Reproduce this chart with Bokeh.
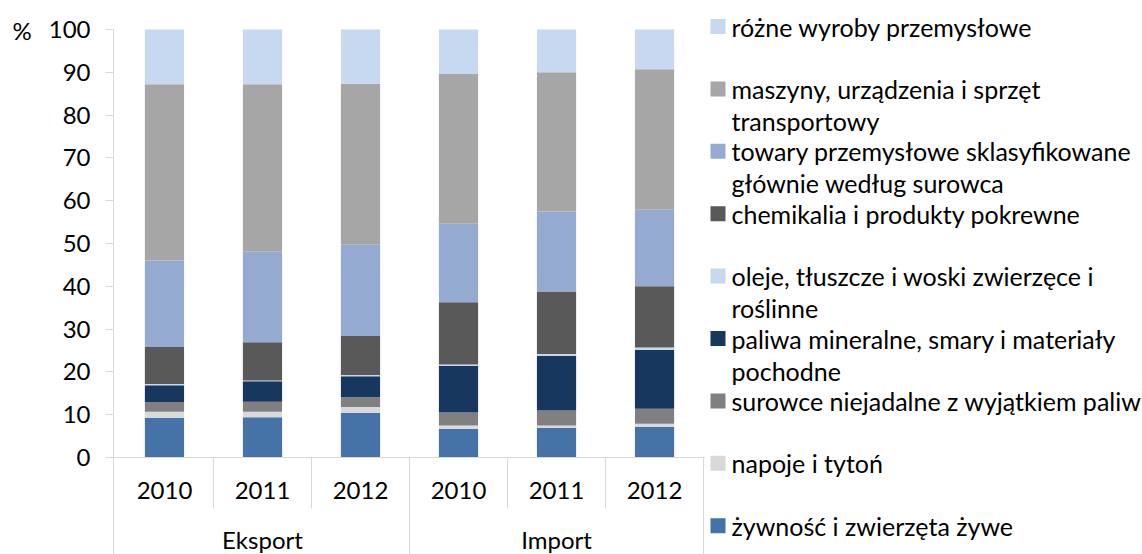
from bokeh.plotting import figure
from bokeh.models import FactorRange, Range1d, FixedTicker, Span, ColumnDataSource
from bokeh.layouts import row
from bokeh.embed import file_html
from bokeh.resources import INLINE
from bokeh.core.properties import value

# ---------------- data ----------------
groups = ["Eksport", "Import"]
years = ["2010", "2011", "2012"]
y_ticks = [0, 10, 20, 30, 40, 50, 60, 70, 80, 90, 100]
unit_label = "%"

# order of values: Eksport 2010, 2011, 2012, Import 2010, 2011, 2012
zywnosc = [9.3, 9.4, 10.4, 6.7, 6.9, 7.2]
napoje = [1.4, 1.3, 1.4, 0.8, 0.6, 0.7]
surowce = [2.2, 2.3, 2.3, 3.0, 3.5, 3.5]
paliwa = [4.0, 4.8, 4.9, 10.9, 12.8, 13.8]
oleje = [0.3, 0.2, 0.3, 0.3, 0.4, 0.5]
chemikalia = [8.6, 8.9, 9.1, 14.6, 14.6, 14.3]
towary = [20.2, 21.3, 21.3, 18.3, 18.7, 17.9]
maszyny = [41.2, 39.0, 37.6, 35.0, 32.5, 32.8]
rozne = [12.8, 12.8, 12.7, 10.4, 10.0, 9.3]

series_keys = ["zywnosc", "napoje", "surowce", "paliwa", "oleje",
               "chemikalia", "towary", "maszyny", "rozne"]
series_values = [zywnosc, napoje, surowce, paliwa, oleje,
                 chemikalia, towary, maszyny, rozne]
legend_labels = [
    "żywność i zwierzęta żywe",
    "napoje i tytoń",
    "surowce niejadalne z wyjątkiem paliw",
    "paliwa mineralne, smary i materiały\npochodne",
    "oleje, tłuszcze i woski zwierzęce i\nroślinne",
    "chemikalia i produkty pokrewne",
    "towary przemysłowe sklasyfikowane\ngłównie według surowca",
    "maszyny, urządzenia i sprzęt\ntransportowy",
    "różne wyroby przemysłowe",
]
colors = ["#4673A7", "#D9D9D9", "#808080", "#17375E", "#C6D9F1",
          "#595959", "#95AAD1", "#A6A6A6", "#C6D9F1"]

FONT = "Lato"
FS = "24px"
LFS = "25px"
GRID = "#D9D9D9"
H = 554

# ---------------- unit label panel ----------------
UW = 45
unit = figure(width=UW, height=H, x_range=Range1d(0, UW), y_range=Range1d(H, 0),
              output_backend="svg", toolbar_location=None, title_location=None,
              x_axis_location=None, y_axis_location=None, min_border=0)
unit.outline_line_color = None
unit.grid.visible = False
unit.text(x=[12], y=[30], text=[unit_label], text_font=value(FONT),
          text_font_size=FS, text_align="left", text_baseline="middle",
          text_color="#000000")

# ---------------- main chart ----------------
factors = [(g, y) for g in groups for y in years]
data = {"x": factors}
for k, v in zip(series_keys, series_values):
    data[k] = v
src = ColumnDataSource(data)

x_range = FactorRange(*factors, group_padding=0, factor_padding=0,
                      subgroup_padding=0, range_padding=0.02,
                      range_padding_units="absolute")
px_per_unit = 4.28
y_top = 100 + 29 / px_per_unit
y_bottom = -(H - 457) / px_per_unit
PW = 660
p = figure(width=PW, height=H, x_range=x_range,
           y_range=Range1d(y_bottom, y_top),
           output_backend="svg", toolbar_location=None, title_location=None,
           x_axis_location=None,
           min_border_left=65, min_border_right=0,
           min_border_top=0, min_border_bottom=0)
p.outline_line_color = None
p.grid.visible = False

p.vbar_stack(series_keys, x="x", width=0.4, color=colors, source=src,
             line_color=None)

yax = p.yaxis[0]
yax.ticker = FixedTicker(ticks=y_ticks)
yax.bounds = (y_bottom, 100)
yax.axis_line_color = GRID
yax.major_tick_line_color = GRID
yax.major_tick_out = 8
yax.major_tick_in = 0
yax.minor_tick_line_color = None
yax.major_label_standoff = 15
yax.major_label_text_font = FONT
yax.major_label_text_font_size = FS
yax.major_label_text_color = "#000000"

# baseline
p.add_layout(Span(location=0, dimension="width", line_color=GRID, line_width=1))

# category separators
n_years = len(years)
n_cat = len(factors)
short_depth = -51 / px_per_unit
sx, sy0, sy1 = [], [], []
for b in range(1, n_cat + 1):
    sx.append(b)
    sy0.append(0)
    sy1.append(y_bottom if b % n_years == 0 else short_depth)
p.segment(x0=sx, y0=sy0, x1=sx, y1=sy1, line_color=GRID, line_width=1)

# category labels
p.text(x=factors, y=[0] * n_cat, text=[f[1] for f in factors],
       text_font=value(FONT), text_font_size=FS, text_align="center",
       text_baseline="middle", y_offset=33, text_color="#000000")
p.text(x=groups, y=[0] * len(groups), text=groups,
       text_font=value(FONT), text_font_size=FS, text_align="center",
       text_baseline="middle", y_offset=82, text_color="#000000")

# ---------------- legend ----------------
LW = 1142 - UW - PW
leg = figure(width=LW, height=H, x_range=Range1d(0, LW),
             y_range=Range1d(H, 0), output_backend="svg",
             toolbar_location=None, title_location=None,
             x_axis_location=None, y_axis_location=None, min_border=0)
leg.outline_line_color = None
leg.grid.visible = False

order = list(range(len(legend_labels)))[::-1]
top_center, step, line_gap = 26, 62.4, 32
sq_x, sq_y, sq_c = [], [], []
tx, ty, tt = [], [], []
for pos, idx in enumerate(order):
    cy = top_center + pos * step
    sq_x.append(12.5)
    sq_y.append(cy)
    sq_c.append(colors[idx])
    for j, line in enumerate(legend_labels[idx].split("\n")):
        tx.append(26)
        ty.append(cy + j * line_gap)
        tt.append(line)
leg.rect(x=sq_x, y=sq_y, width=15, height=15, width_units="screen",
         height_units="screen", color=sq_c, line_color=None)
leg.text(x=tx, y=ty, text=tt, text_font=value(FONT), text_font_size=LFS,
         text_align="left", text_baseline="middle", text_color="#000000")

layout = row(unit, p, leg)
open("out.html", "w").write(file_html(layout, INLINE))
